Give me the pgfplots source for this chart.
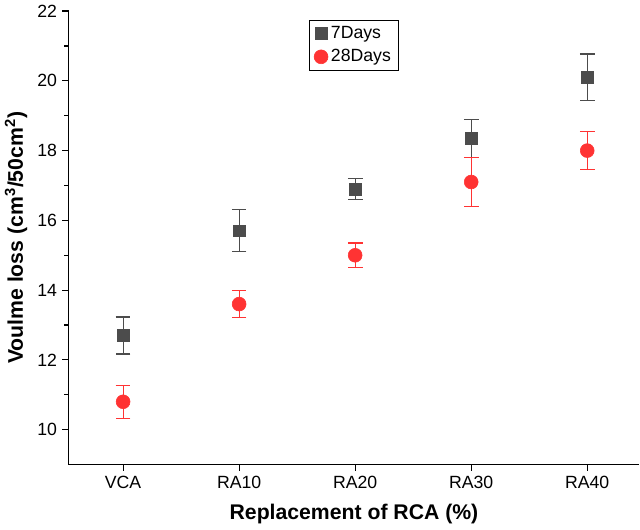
\documentclass[border=0pt]{standalone}
\usepackage{pgfplots}
\pgfplotsset{compat=1.18}
\usepackage{fontspec}
\setmainfont{Liberation Sans}
\begin{document}
\begin{tikzpicture}
\begin{axis}[
  width=15.2cm, height=12.4cm,
  xmin=-0.47, xmax=4.45, ymin=9, ymax=22,
  axis x line*=bottom, axis y line*=left,
  xtick={0,1,2,3,4}, xticklabels={VCA,RA10,RA20,RA30,RA40},
  ytick={10,12,14,16,18,20,22}, minor y tick num=1,
  tick align=outside, tick style={black, thick},
  axis line style={black, thick},
  /pgf/number format/assume math mode=true,
  tick label style={font=\large},
  xlabel={\textbf{Replacement of RCA (\%)}},
  ylabel={\textbf{Voulme loss (cm$^{\mathbf 3}$/50cm$^{\mathbf 2}$)}},
  label style={font=\Large},
  xlabel style={yshift=-4pt},
  legend style={at={(0.5,0.98)}, anchor=north, draw=black, font=\large, row sep=2pt},
  legend cell align=left,
]
\addplot[only marks, mark=square*, mark size=4pt, draw=black!70, fill=black!70,
  error bars/.cd, y dir=both, y explicit, error mark options={rotate=90, mark size=5pt, black!70, thick}, error bar style={black!70, thick}]
  coordinates {(0,12.7) +- (0,0.53) (1,15.7) +- (0,0.6) (2,16.9) +- (0,0.3) (3,18.35) +- (0,0.55) (4,20.1) +- (0,0.67)};
\addlegendentry{7Days}
\addplot[only marks, mark=*, mark size=4.7pt, draw=red!80, fill=red!80,
  error bars/.cd, y dir=both, y explicit, error mark options={rotate=90, mark size=5pt, red!80, thick}, error bar style={red!80, thick}]
  coordinates {(0,10.8) +- (0,0.47) (1,13.6) +- (0,0.38) (2,15.0) +- (0,0.35) (3,17.1) +- (0,0.7) (4,18.0) +- (0,0.55)};
\addlegendentry{28Days}
\end{axis}
\end{tikzpicture}
\end{document}
